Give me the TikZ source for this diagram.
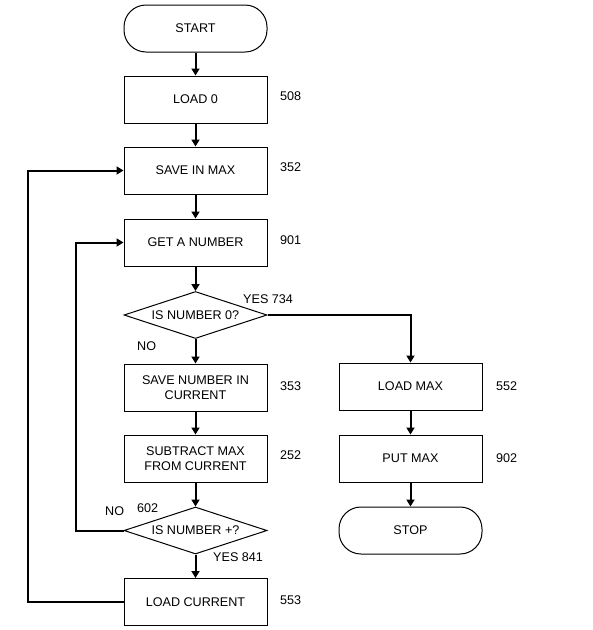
\documentclass[tikz,border=0pt]{standalone}
\usepackage{fontspec}
\setmainfont{Liberation Sans}
\usetikzlibrary{shapes.geometric,arrows.meta}
\begin{document}
\begin{tikzpicture}[x=1pt,y=-1pt,
  txt/.style={font=\fontsize{12.6}{15}\selectfont},
  box/.style={txt,draw,line width=1pt,minimum width=143pt,minimum height=47pt,inner sep=0pt,align=center},
  term/.style={box,rounded corners=22pt},
  dec/.style={txt,draw,diamond,shape aspect=3,line width=1pt,minimum width=143pt,minimum height=47pt,inner sep=0pt},
  lbl/.style={txt,anchor=west,inner sep=0pt},
  conn/.style={line width=2pt,-{Triangle[length=7pt,width=8pt]}},
  ]
\useasboundingbox (0,0) rectangle (593,630);
\node[term] (start) at (195.5,28.5) {START};
\node[box] (load0) at (195.5,99.5) {LOAD 0};
\node[box] (save) at (195.5,170.5) {SAVE IN MAX};
\node[box] (get) at (195.5,242.5) {GET A NUMBER};
\node[dec] (q0) at (195.5,315) {IS NUMBER 0?};
\node[box] (savecur) at (195.5,387.5) {SAVE NUMBER IN\\CURRENT};
\node[box] (sub) at (195.5,458.5) {SUBTRACT MAX\\FROM CURRENT};
\node[dec] (qp) at (195.5,530.5) {IS NUMBER +?};
\node[box] (loadcur) at (195.5,602) {LOAD CURRENT};
\node[box] (loadmax) at (410.5,386.5) {LOAD MAX};
\node[box] (putmax) at (410.5,458.5) {PUT MAX};
\node[term] (stop) at (410.5,530.5) {STOP};

\node[lbl] (l508) at (280,96) {508};
\node[lbl] (l352) at (280,167) {352};
\node[lbl] (l901) at (280,240) {901};
\node[lbl] (l734) at (243,299) {YES 734};
\node[lbl] (lno1) at (137,346) {NO};
\node[lbl] (l353) at (280,386) {353};
\node[lbl] (l252) at (280,455) {252};
\node[lbl] (lno2) at (105,511) {NO};
\node[lbl] (l602) at (137,508) {602};
\node[lbl] (l841) at (213,557) {YES 841};
\node[lbl] (l553) at (280,600) {553};
\node[lbl] (l552) at (496,386) {552};
\node[lbl] (l902) at (496,458) {902};

\draw[conn] (start) -- (load0);
\draw[conn] (load0) -- (save);
\draw[conn] (save) -- (get);
\draw[conn] (get) -- (q0);
\draw[conn] (q0) -- (savecur);
\draw[conn] (savecur) -- (sub);
\draw[conn] (sub) -- (qp);
\draw[conn] (qp) -- (loadcur);
\draw[conn] (q0.east) -| (loadmax.north);
\draw[conn] (loadmax) -- (putmax);
\draw[conn] (putmax) -- (stop);
\draw[conn] (qp.west) -- ++(-48,0) |- (get.west);
\draw[conn] (loadcur.west) -- ++(-96,0) |- (save.west);
\end{tikzpicture}
\end{document}
